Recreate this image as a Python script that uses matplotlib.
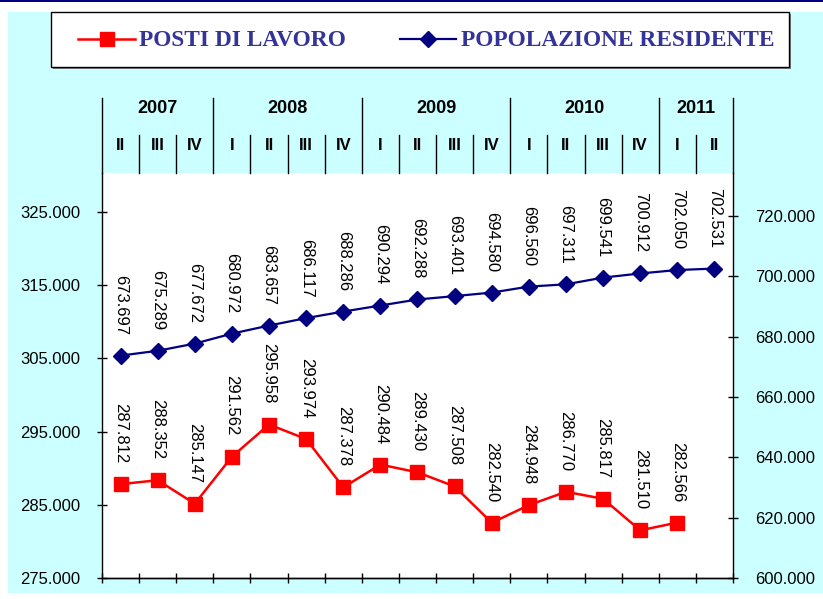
import matplotlib
matplotlib.use('Agg')
import matplotlib.pyplot as plt
from matplotlib.patches import Rectangle
from matplotlib.lines import Line2D
import numpy as np

plt.rcParams['font.family'] = ['Liberation Sans', 'DejaVu Sans']

# Data (values in thousands)
quarters = ['II', 'III', 'IV', 'I', 'II', 'III', 'IV', 'I', 'II', 'III', 'IV',
            'I', 'II', 'III', 'IV', 'I', 'II']
years = ['2007', '2008', '2009', '2010', '2011']
quarters_per_year = [3, 4, 4, 4, 2]

posti_lavoro = [287.812, 288.352, 285.147, 291.562, 295.958, 293.974, 287.378, 290.484,
                289.430, 287.508, 282.540, 284.948, 286.770, 285.817, 281.510, 282.566]
popolazione = [673.697, 675.289, 677.672, 680.972, 683.657, 686.117, 688.286, 690.294,
               692.288, 693.401, 694.580, 696.560, 697.311, 699.541, 700.912, 702.050, 702.531]

left_ticks = [275, 285, 295, 305, 315, 325]
right_ticks = [600, 620, 640, 660, 680, 700, 720]

W, H = 823, 599
def fx(px):
    return px / W
def fy(py):
    return 1 - py / H

RED = '#FF0000'
NAVY = '#000080'
LEG_TXT = '#333399'

fig = plt.figure(figsize=(W / 100, H / 100), dpi=100)
fig.patch.set_facecolor('white')

# background panel and top rule
fig.patches.append(Rectangle((fx(8), fy(593)), (W - 8) / W, (593 - 12) / H,
                             transform=fig.transFigure, facecolor='#CCFFFF',
                             edgecolor='none', zorder=-2))
fig.patches.append(Rectangle((0, fy(2)), 1, 2 / H, transform=fig.transFigure,
                             facecolor=NAVY, edgecolor='none', zorder=-2))

ax = fig.add_axes([fx(102), fy(578), (733 - 102) / W, (578 - 173) / H])
ax.set_facecolor('white')
x = np.arange(len(popolazione))

ax.plot(x[:len(posti_lavoro)], posti_lavoro, color=RED, lw=1.8, marker='s', ms=10,
        mec=RED, mfc=RED, zorder=3)
ax.set_xlim(-0.5, len(popolazione) - 0.5)
ax.set_ylim(275, 330.3)
ax.set_yticks(left_ticks)
ax.set_yticklabels([f'{v:.3f}' for v in left_ticks])

ax2 = ax.twinx()
ax2.plot(x, popolazione, color=NAVY, lw=1.6, marker='D', ms=8.5, mec=NAVY, mfc=NAVY, zorder=3)
ax2.set_ylim(600, 734.2)
ax2.set_yticks(right_ticks)
ax2.set_yticklabels([f'{v:.3f}' for v in right_ticks])

for a in (ax, ax2):
    a.spines['top'].set_visible(False)
    for s in a.spines.values():
        s.set_color('black')
        s.set_linewidth(1.0)
ax.spines['right'].set_visible(False)
ax2.spines['left'].set_visible(False)

ax.set_xticks(np.arange(-0.5, len(popolazione), 1))
ax.set_xticklabels([])
ax.tick_params(axis='x', direction='inout', length=7.2, width=1, color='black')
ax.tick_params(axis='y', direction='inout', length=7.2, width=1, pad=12, labelsize=12)
ax2.tick_params(axis='y', direction='inout', length=7.2, width=1, pad=12, labelsize=12)

# data labels
for xi, v in zip(x, posti_lavoro):
    ax.annotate(f'{v:.3f}', (xi, v), xytext=(0, 15), textcoords='offset points',
                rotation=270, ha='center', va='bottom', fontsize=12, zorder=4)
for xi, v in zip(x, popolazione):
    ax2.annotate(f'{v:.3f}', (xi, v), xytext=(0, 15), textcoords='offset points',
                 rotation=270, ha='center', va='bottom', fontsize=12, zorder=4)

# category header above plot (years / quarters)
tr = ax.get_xaxis_transform()
y_top = (578 - 98) / 405
y_qline = (578 - 135) / 405
y_year = (578 - 108) / 405
y_quarter = (578 - 145) / 405

start = -0.5
bounds = [start]
for n in quarters_per_year:
    bounds.append(bounds[-1] + n)
for b in bounds:
    ax.plot([b, b], [1, y_top], transform=tr, color='black', lw=1, clip_on=False)
for i in range(len(quarters) - 1):
    b = i + 0.5
    if b not in bounds:
        ax.plot([b, b], [1, y_qline], transform=tr, color='black', lw=1, clip_on=False)
for yr, b0, b1 in zip(years, bounds[:-1], bounds[1:]):
    ax.text((b0 + b1) / 2, y_year, yr, transform=tr, ha='center', va='center',
            fontsize=13, fontweight='bold')
for xi, q in zip(x, quarters):
    ax.text(xi, y_quarter, q, transform=tr, ha='center', va='center',
            fontsize=12, fontweight='bold')

# legend box
fig.patches.append(Rectangle((fx(53), fy(69)), (789 - 51) / W, (67 - 12) / H,
                             transform=fig.transFigure, facecolor='#808080',
                             edgecolor='none', zorder=5))
fig.patches.append(Rectangle((fx(51), fy(67)), (789 - 51) / W, (67 - 12) / H,
                             transform=fig.transFigure, facecolor='white',
                             edgecolor='black', lw=1, zorder=6))
fig.add_artist(Line2D([fx(78), fx(106.5), fx(135)], [fy(39)] * 3, color=RED, lw=1.8,
                      marker='s', ms=10, markevery=[1], transform=fig.transFigure, zorder=7))
fig.add_artist(Line2D([fx(400), fx(428), fx(456)], [fy(39)] * 3, color=NAVY, lw=1.6,
                      marker='D', ms=8.5, markevery=[1], transform=fig.transFigure, zorder=7))
fig.text(fx(139), fy(46), 'POSTI DI LAVORO', ha='left', va='baseline',
         fontfamily='Liberation Serif', fontweight='bold', fontsize=16.8, color=LEG_TXT, zorder=8)
fig.text(fx(461), fy(46), 'POPOLAZIONE RESIDENTE', ha='left', va='baseline',
         fontfamily='Liberation Serif', fontweight='bold', fontsize=16.8, color=LEG_TXT, zorder=8)

fig.savefig('out.png', dpi=100, facecolor=fig.get_facecolor())
